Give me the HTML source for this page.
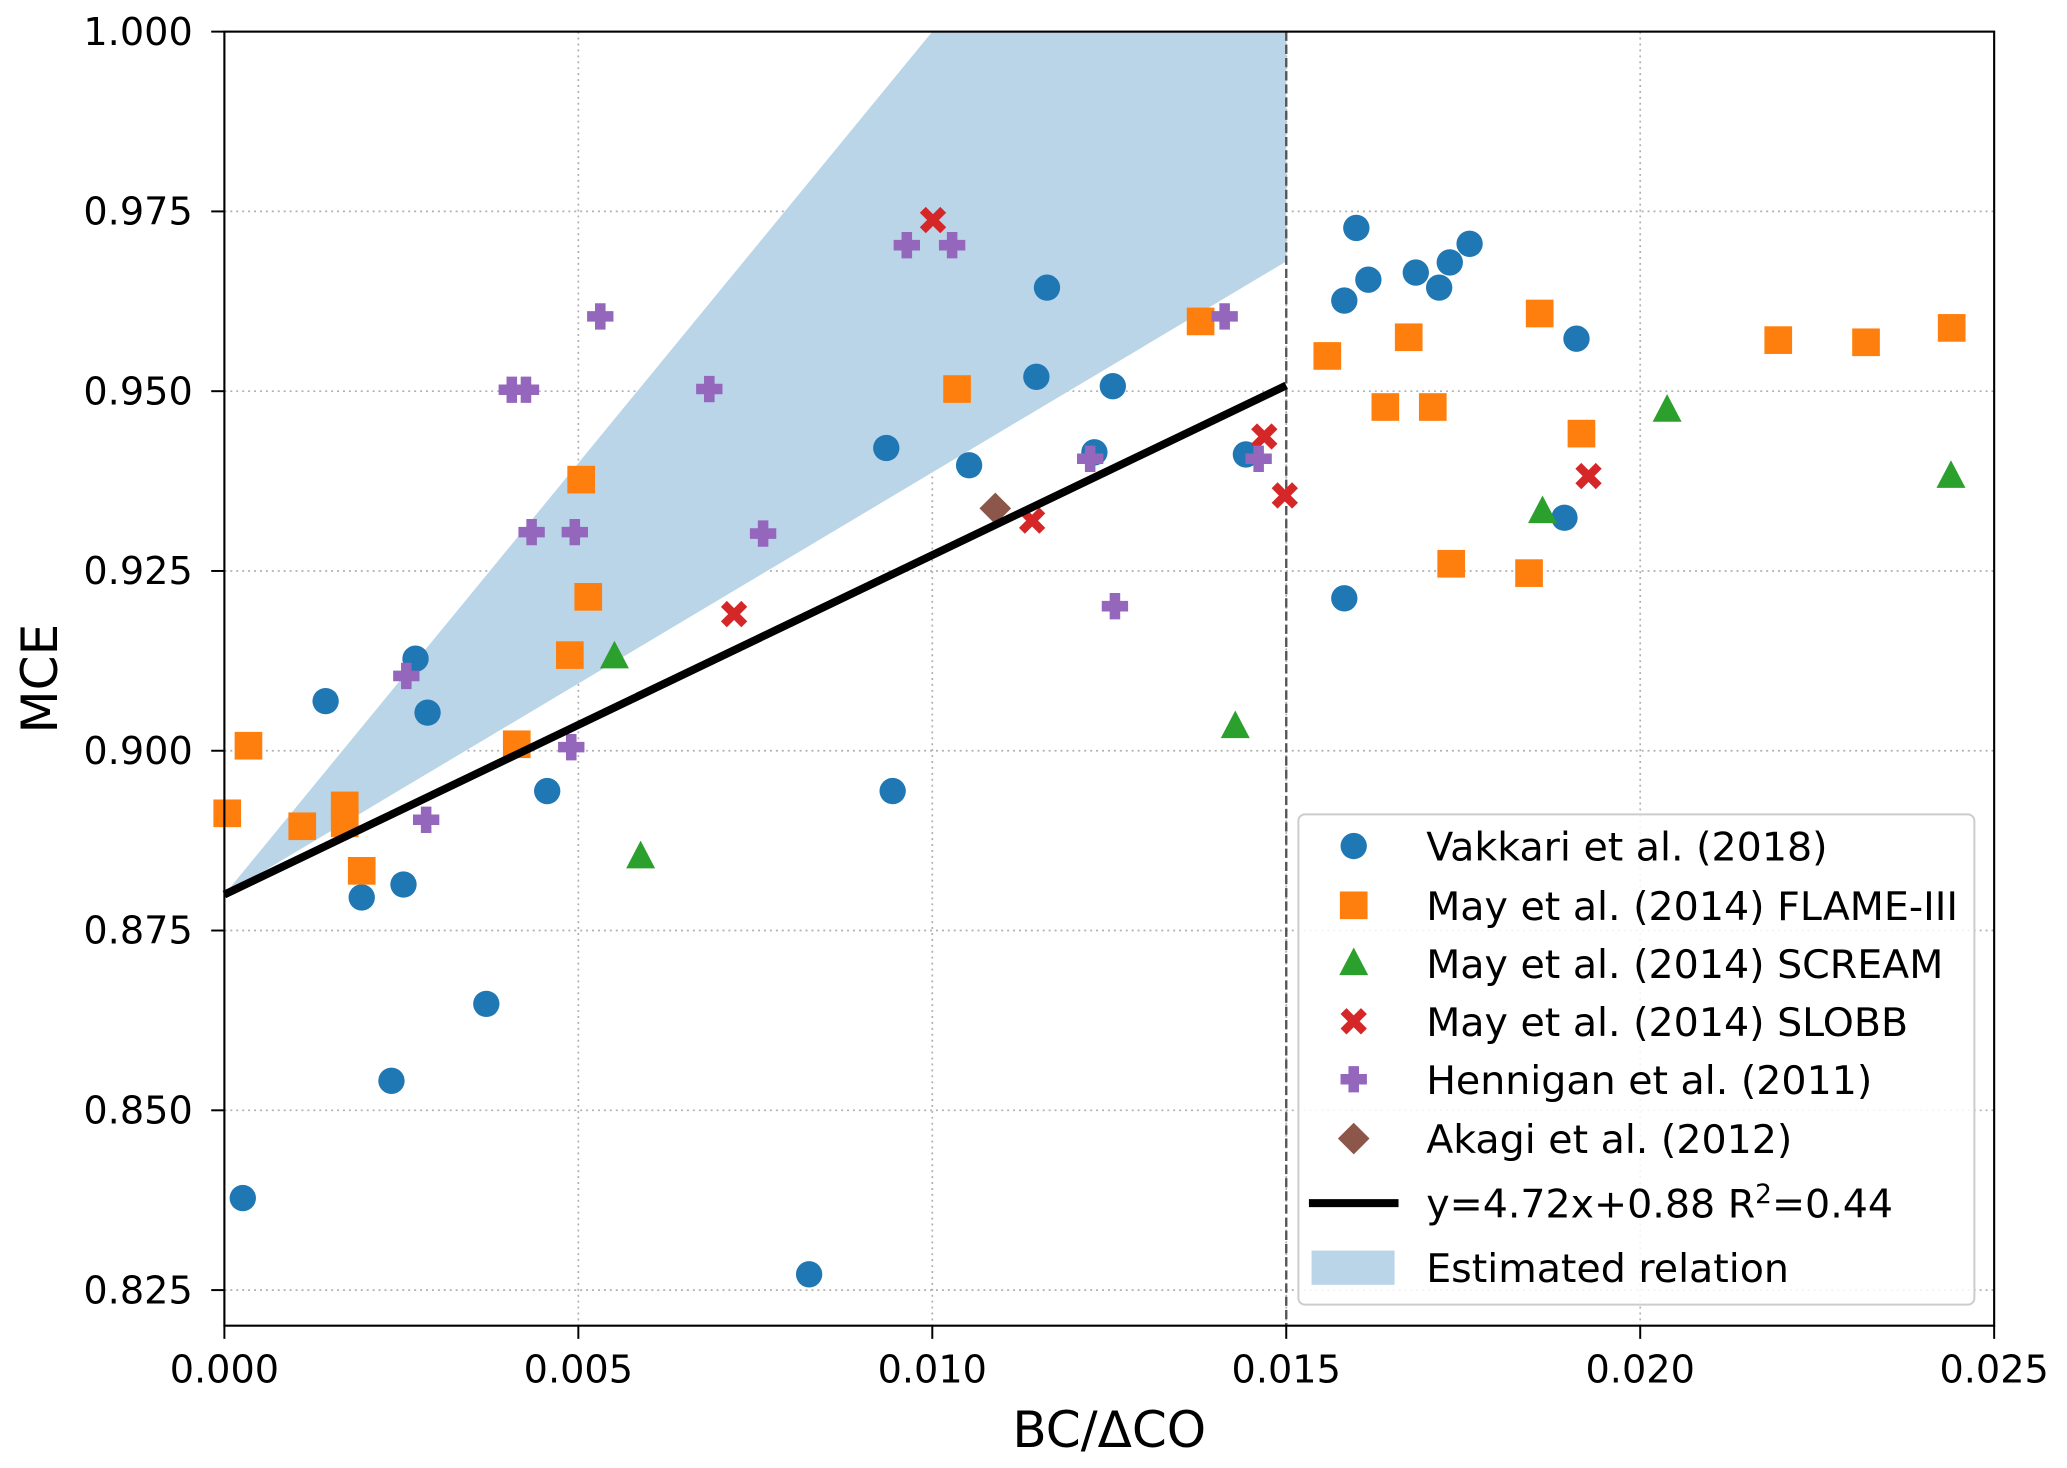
<!DOCTYPE html>
<html><head><meta charset="utf-8"><style>
html,body{margin:0;padding:0;background:#fff;}
svg{display:block;font-family:"DejaVu Sans","Liberation Sans",sans-serif;}
</style></head><body>
<svg id="chart" width="2067" height="1468" viewBox="0 0 1568 1114" xmlns="http://www.w3.org/2000/svg">
<g id="grid"></g>
<g id="shade"></g>
<g id="marks"></g>
<g id="axes"></g>
<g id="legend"></g>
</svg>
<script>
const xTicks=[0,0.005,0.010,0.015,0.020,0.025];
const xTickLabels=["0.000","0.005","0.010","0.015","0.020","0.025"];
const yTicks=[0.825,0.850,0.875,0.900,0.925,0.950,0.975,1.000];
const yTickLabels=["0.825","0.850","0.875","0.900","0.925","0.950","0.975","1.000"];
const vakkariX=[0.00026,0.00143,0.00194,0.00236,0.00253,0.0027,0.00287,0.0037,0.00456,0.00826,0.00935,0.00944,0.01052,0.01147,0.01162,0.01229,0.01255,0.01443,0.01582,0.01582,0.01599,0.01616,0.01683,0.01716,0.01731,0.01759,0.01893,0.0191];
const vakkariY=[0.8378,0.9069,0.8796,0.8541,0.8814,0.9128,0.9053,0.8648,0.8944,0.8272,0.9421,0.8944,0.9397,0.9520,0.9644,0.9415,0.9507,0.9412,0.9626,0.9212,0.9727,0.9655,0.9665,0.9644,0.9679,0.9705,0.9324,0.9573];
const flameX=[0.00004,0.00034,0.0011,0.0017,0.0017,0.00194,0.00413,0.00488,0.00504,0.00514,0.01035,0.01379,0.01558,0.0164,0.01673,0.01707,0.01733,0.01843,0.01858,0.01917,0.02195,0.02319,0.0244];
const flameY=[0.8913,0.9007,0.8895,0.8924,0.8899,0.8833,0.9009,0.9133,0.9377,0.9214,0.9503,0.9597,0.9549,0.9478,0.9575,0.9478,0.926,0.9247,0.9608,0.9441,0.9571,0.9568,0.9588];
const screamX=[0.00551,0.00588,0.01428,0.01862,0.02038,0.02439];
const screamY=[0.9131,0.8853,0.9034,0.9333,0.9474,0.9382];
const slobbX=[0.0072,0.01001,0.01141,0.01469,0.01498,0.01927];
const slobbY=[0.919,0.9738,0.932,0.9437,0.9355,0.9382];
const hennX=[0.00257,0.00285,0.00406,0.00426,0.00434,0.0049,0.00495,0.00531,0.00685,0.00761,0.00964,0.01028,0.01223,0.01258,0.01413,0.01461];
const hennY=[0.9104,0.8904,0.9502,0.9502,0.9304,0.9005,0.9304,0.9604,0.9503,0.9302,0.9703,0.9703,0.9406,0.9201,0.9604,0.9406];
const akagiX=[0.01089];
const akagiY=[0.9337];
const fitSlope=4.72, fitIntercept=0.88, fitXMax=0.015;
const bandUpperSlope=12.0, bandLowerSlope=5.87;

const NS="http://www.w3.org/2000/svg";
const L=170,R=1513,T=24,B=1006,X0=0,X1=0.025,Y0=0.82005,Y1=1.0;
const sx=v=>L+(v-X0)/(X1-X0)*(R-L);
const sy=v=>B-(v-Y0)/(Y1-Y0)*(B-T);
function mk(tag,attrs,parent){const e=document.createElementNS(NS,tag);for(const k in attrs)e.setAttribute(k,attrs[k]);parent.appendChild(e);return e;}
const grid=document.getElementById('grid'),shade=document.getElementById('shade'),marks=document.getElementById('marks'),axes=document.getElementById('axes'),legend=document.getElementById('legend');

xTicks.forEach((t,i)=>{if(i===0||i===xTicks.length-1)return;const l=mk('line',{x1:sx(t),x2:sx(t),y1:T,y2:B,stroke:'#b0b0b0','stroke-width':1.3,'stroke-dasharray':'1.5,3'},grid);
});
yTicks.forEach((t,i)=>{if(t>=Y1)return;const l=mk('line',{x1:L,x2:R,y1:sy(t),y2:sy(t),stroke:'#b0b0b0','stroke-width':1.3,'stroke-dasharray':'1.5,3'},grid);
});

const xTop=(Y1-fitIntercept)/bandUpperSlope;
const pts=[[0,fitIntercept],[xTop,Y1],[fitXMax,Y1],[fitXMax,fitIntercept+bandLowerSlope*fitXMax]];
const band=mk('polygon',{points:pts.map(p=>sx(p[0])+','+sy(p[1])).join(' '),fill:'#bad5e8'},shade);

const vl=mk('line',{x1:sx(fitXMax),x2:sx(fitXMax),y1:T,y2:B,stroke:'#555','stroke-width':1.8,'stroke-dasharray':'7,3'},shade);


function circle(g,x,y,c){return mk('circle',{cx:x,cy:y,r:10,fill:c},g);}
function square(g,x,y,c){return mk('rect',{x:x-10.5,y:y-10.5,width:21,height:21,fill:c},g);}
function tri(g,x,y,c){return mk('polygon',{points:`${x},${y-12} ${x-11},${y+9} ${x+11},${y+9}`,fill:c},g);}
function xm(g,x,y,c){const a=4.5,b=10;return mk('polygon',{points:[[-b,-b+a],[-b+a,-b],[0,-a],[b-a,-b],[b,-b+a],[a,0],[b,b-a],[b-a,b],[0,a],[-b+a,b],[-b,b-a],[-a,0]].map(p=>(x+p[0])+','+(y+p[1])).join(' '),fill:c},g);}
function plus(g,x,y,c){const a=4,b=10;return mk('polygon',{points:[[-a,-b],[a,-b],[a,-a],[b,-a],[b,a],[a,a],[a,b],[-a,b],[-a,a],[-b,a],[-b,-a],[-a,-a]].map(p=>(x+p[0])+','+(y+p[1])).join(' '),fill:c},g);}
function diamond(g,x,y,c){return mk('polygon',{points:`${x},${y-12} ${x+12},${y} ${x},${y+12} ${x-12},${y}`,fill:c},g);}

const series=[
 {xs:vakkariX,ys:vakkariY,f:circle,c:'#1f77b4',name:'vakkari-point',label:'Vakkari et al. (2018)'},
 {xs:flameX,ys:flameY,f:square,c:'#ff7f0e',name:'flame-iii-point',label:'May et al. (2014) FLAME-III'},
 {xs:screamX,ys:screamY,f:tri,c:'#2ca02c',name:'scream-point',label:'May et al. (2014) SCREAM'},
 {xs:slobbX,ys:slobbY,f:xm,c:'#d62728',name:'slobb-point',label:'May et al. (2014) SLOBB'},
 {xs:hennX,ys:hennY,f:plus,c:'#9467bd',name:'hennigan-point',label:'Hennigan et al. (2011)'},
 {xs:akagiX,ys:akagiY,f:diamond,c:'#8c564b',name:'akagi-point',label:'Akagi et al. (2012)'}];
series.forEach(s=>{s.xs.forEach((v,i)=>{const e=s.f(marks,sx(v),sy(s.ys[i]),s.c);
});});

const fit=mk('line',{x1:sx(0),y1:sy(fitIntercept),x2:sx(fitXMax),y2:sy(fitIntercept+fitSlope*fitXMax),stroke:'#000','stroke-width':6},marks);


const fr=mk('rect',{x:L,y:T,width:R-L,height:B-T,fill:'none',stroke:'#000','stroke-width':1.6},axes);

xTicks.forEach((t,i)=>{mk('line',{x1:sx(t),x2:sx(t),y1:B,y2:B+10,stroke:'#000','stroke-width':1.5},axes);
const tx=mk('text',{x:sx(t),y:B+43,'font-size':29,'text-anchor':'middle',fill:'#000'},axes);tx.textContent=xTickLabels[i];
});
yTicks.forEach((t,i)=>{mk('line',{x1:L-10,x2:L,y1:sy(t),y2:sy(t),stroke:'#000','stroke-width':1.5},axes);
const tx=mk('text',{x:L-24,y:sy(t)+10,'font-size':29,'text-anchor':'end',fill:'#000'},axes);tx.textContent=yTickLabels[i];
});
const xl=mk('text',{x:(L+R)/2,y:1098,'font-size':38,'text-anchor':'middle',fill:'#000'},axes);xl.textContent='BC/ΔCO';

const yl=mk('text',{x:0,y:0,'font-size':38,'text-anchor':'middle',fill:'#000',transform:`translate(43,${(T+B)/2}) rotate(-90)`},axes);yl.textContent='MCE';


const lb=mk('rect',{x:985,y:618,width:513,height:372,rx:5,fill:'#fff','fill-opacity':0.85,stroke:'#ccc','stroke-width':1.5},legend);

const ly=[642,687,731,775,819,864,913,962];
series.forEach((s,i)=>{const g=mk('g',{},legend);
s.f(g,1027,ly[i],s.c);const t=mk('text',{x:1082,y:ly[i]+11,'font-size':30,fill:'#000'},g);t.textContent=s.label;});
{const g=mk('g',{},legend);
mk('line',{x1:993,x2:1061,y1:ly[6],y2:ly[6],stroke:'#000','stroke-width':6},g);
const t=mk('text',{x:1082,y:ly[6]+11,'font-size':30,fill:'#000'},g);t.innerHTML='y=4.72x+0.88 R<tspan dy="-11" font-size="20">2</tspan><tspan dy="11">=0.44</tspan>';}
{const g=mk('g',{},legend);
mk('rect',{x:995,y:ly[7]-13,width:63,height:26,fill:'#bad5e8'},g);
const t=mk('text',{x:1082,y:ly[7]+11,'font-size':30,fill:'#000'},g);t.textContent='Estimated relation';}
</script>
</body></html>
